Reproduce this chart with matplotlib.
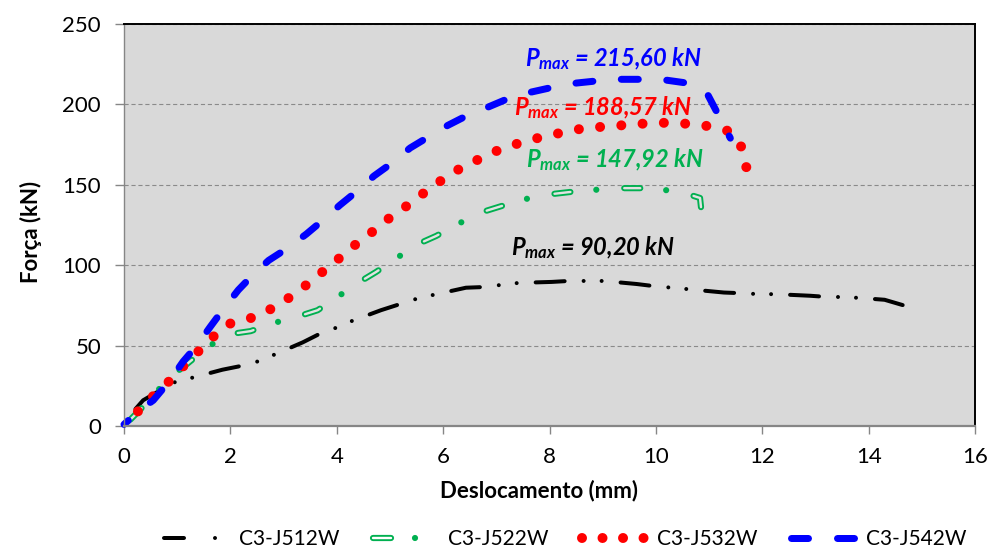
import matplotlib
matplotlib.use("Agg")
import numpy as np
import matplotlib.pyplot as plt
from matplotlib.lines import Line2D
from matplotlib.legend_handler import HandlerTuple

plt.rcParams['lines.scale_dashes'] = False
plt.rcParams['font.family'] = ['Lato', 'DejaVu Sans']
plt.rcParams['mathtext.fontset'] = 'custom'
plt.rcParams['mathtext.it'] = 'Lato:italic:bold'
plt.rcParams['mathtext.rm'] = 'Lato:bold'
plt.rcParams['mathtext.bf'] = 'Lato:bold'

# ---- data: displacement (mm) vs force (kN) ----
x_j512 = [0, 0.36, 0.93, 1.28, 1.85, 2.15, 2.5, 2.8, 3.36, 3.66, 3.98, 4.26, 4.83,
          5.49, 5.81, 6.43, 6.75, 7.08, 7.42, 8.04, 8.36, 8.7, 9.02, 9.64, 9.96,
          10.3, 10.64, 11.28, 11.6, 11.94, 12.25, 12.9, 13.2, 13.55, 13.85, 14.3, 14.64]
y_j512 = [2.5, 16, 27, 30, 35, 37, 40, 44, 52, 57, 61, 65, 72,
          79, 81.5, 86, 86.4, 87.7, 89, 89.6, 90.2, 90.2, 90.2, 88.3, 87,
          86, 85, 83, 82.6, 82, 82, 81, 80.3, 80.2, 79.6, 78.5, 75.2]

x_j522 = [0, 0.3, 0.6, 0.93, 1.2, 1.57, 1.96, 2.38, 2.81, 3.26, 3.64, 4.02, 4.4,
          4.74, 5.13, 5.49, 5.87, 6.28, 6.68, 7.1, 7.53, 7.98, 8.38, 8.83, 9.3,
          9.7, 10.17, 10.62, 10.83, 10.85, 10.81]
y_j522 = [0, 10, 21, 32, 39, 49, 57, 59, 64, 68, 72, 80.4, 89,
          95.8, 104.5, 112.6, 118.2, 125.6, 132.5, 136.8, 141, 144, 145.5, 146.8, 147.92,
          147.92, 146.8, 144, 141.8, 135.6, 120]

x_j532 = [0, 0.25, 0.53, 0.81, 1.08, 1.37, 1.66, 1.96, 2.34, 2.72, 3.07, 3.4, 3.7,
          4.02, 4.32, 4.64, 4.96, 5.28, 5.6, 5.92, 6.27, 6.64, 7.0, 7.38, 7.77,
          8.17, 8.57, 8.96, 9.36, 9.75, 10.17, 10.57, 10.96, 11.36, 11.6, 11.7]
y_j532 = [0, 8.7, 18, 26.5, 36, 45.5, 55, 63.4, 66.5, 72, 79, 87, 95,
          103.6, 112, 120, 128.6, 136, 144, 151.7, 159.2, 165.4, 171, 175.4, 179,
          182, 184.7, 186, 187, 188, 188.57, 188, 186.6, 183.5, 174, 161]

x_j542 = [0, 0.3, 0.55, 0.87, 1.11, 1.38, 1.62, 1.87, 2.15, 2.42, 2.72, 3.08, 3.43,
          3.74, 4.06, 4.38, 4.7, 5.04, 5.38, 5.72, 6.09, 6.47, 6.85, 7.25, 7.66,
          8.08, 8.51, 8.89, 9.32, 9.74, 10.17, 10.58, 10.96, 11.15, 11.4]
y_j542 = [1, 10, 16, 28.6, 40, 50.4, 61.6, 72.8, 84.6, 93.9, 103, 110.7, 119.4,
          128, 137.4, 146, 155.5, 163.6, 172.9, 179.7, 187, 193.4, 198.4, 204, 207.7,
          210.8, 213.3, 214.6, 215.6, 215.6, 215.2, 213.3, 207, 195, 179]

series_names = ['C3-J512W', 'C3-J522W', 'C3-J532W', 'C3-J542W']
x_ticks = [0, 2, 4, 6, 8, 10, 12, 14, 16]
y_ticks = [0, 50, 100, 150, 200, 250]

BLACK = '#000000'
GREEN = '#00b050'
RED = '#ff0000'
BLUE = '#0000ff'
BG = '#d9d9d9'


def px(v):
    """pixels -> points at 100 dpi"""
    return v * 72.0 / 100.0


fig = plt.figure(figsize=(9.92, 5.49), dpi=100)
ax = fig.add_axes([124 / 992, 1 - 426 / 549, (975 - 124) / 992, (426 - 24) / 549])
ax.set_facecolor(BG)
ax.set_xlim(0, 16)
ax.set_ylim(0, 250)


def path_len(xs, ys):
    """length of a curve on screen, in pixels"""
    pts = ax.transData.transform(np.column_stack([xs, ys]))
    return float(np.sum(np.hypot(*np.diff(pts, axis=0).T)))


def pattern(seq, end_pos=None, length=None):
    """dash pattern (pixel units); optionally phase it so the curve ends at end_pos"""
    period = sum(seq)
    off = 0.0
    if end_pos is not None:
        off = (end_pos - length) % period
    return (px(off), tuple(px(v) for v in seq))


common = dict(solid_capstyle='round', dash_capstyle='round', clip_on=False)

# dash-dot-dot black
seq_k = (29, 19, 0.01, 18, 0.01, 19)
ax.plot(x_j512, y_j512, color=BLACK, lw=px(4),
        ls=pattern(seq_k, 28.5, path_len(x_j512, y_j512)), **common)

# hollow dash + dot green (outer stroke, then inner light core on the dashes)
L_g = path_len(x_j522, y_j522)
ax.plot(x_j522, y_j522, color=GREEN, lw=px(6.2),
        ls=pattern((16, 26, 0.01, 28), 42.0, L_g), **common)
ax.plot(x_j522, y_j522, color='#e2e2e2', lw=px(2.4),
        ls=pattern((16, 54), 42.0, L_g), **common)

# round dots red
ax.plot(x_j532, y_j532, color=RED, lw=px(10),
        ls=pattern((0.01, 21.3), 0.005, path_len(x_j532, y_j532)), **common)

# long dashes blue
ax.plot(x_j542, y_j542, color=BLUE, lw=px(7),
        ls=pattern((17, 28.5), 2.5, path_len(x_j542, y_j542)), **common)

ax.set_xticks(x_ticks)
ax.set_yticks(y_ticks)
ax.tick_params(axis='both', direction='out', color='#868686', labelsize=16,
               labelcolor='black')
ax.tick_params(axis='x', length=6, width=1, pad=9)
ax.tick_params(axis='y', length=6.5, width=1, pad=10)

ax.yaxis.grid(True, color='#8a8a8a', lw=0.8, ls=(0, (3, 2)))
ax.set_axisbelow(True)

for side in ('top', 'right'):
    ax.spines[side].set_color('black')
    ax.spines[side].set_linewidth(1.4)
ax.spines['left'].set_color('#868686')
ax.spines['left'].set_linewidth(1.0)
ax.spines['bottom'].set_color('#868686')
ax.spines['bottom'].set_linewidth(1.6)

ax.set_xlabel('Deslocamento (mm)', fontsize=16, fontweight='bold')
ax.set_ylabel('Força (kN)', fontsize=16, fontweight='bold')
ax.xaxis.set_label_coords((539 - 124) / 851, (426 - 480) / 402)
ax.yaxis.set_label_coords((42 - 124) / 851, (426 - 232) / 402)


def pmax_label(ys):
    return r'$P_{max}$' + ' = ' + f'{max(ys):.2f}'.replace('.', ',') + ' kN'


ann = dict(fontsize=17, fontweight='bold', fontstyle='italic', va='baseline', ha='left')
ax.text(7.53, 223.9, pmax_label(y_j542), color=BLUE, **ann)
ax.text(7.33, 193.4, pmax_label(y_j532), color=RED, **ann)
ax.text(7.55, 161.0, pmax_label(y_j522), color=GREEN, **ann)
ax.text(7.27, 106.3, pmax_label(y_j512), color=BLACK, **ann)

# legend proxies
lk = dict(dash_capstyle='round', solid_capstyle='round')
h_black = Line2D([], [], color=BLACK, lw=px(4), ls=pattern((20, 31, 0.01, 100)), **lk)
h_green_o = Line2D([], [], color=GREEN, lw=px(6.2), ls=pattern((18, 24, 0.01, 100)), **lk)
h_green_i = Line2D([], [], color='#ffffff', lw=px(2.4), ls=pattern((18, 100)), **lk)
h_red = Line2D([], [], color=RED, lw=px(10), ls=pattern((0.01, 20.5)), **lk)
h_blue = Line2D([], [], color=BLUE, lw=px(7), ls=pattern((17, 29)), **lk)

fig.legend([h_black, (h_green_o, h_green_i), h_red, h_blue], series_names,
           handler_map={tuple: HandlerTuple(ndivide=1)},
           loc='center', bbox_to_anchor=(0.57, 0.018), ncol=4, frameon=False,
           fontsize=15, handlelength=3.1, handletextpad=0.5, columnspacing=1.6,
           borderpad=0.1)

fig.savefig('out.png', dpi=100, facecolor='white')
